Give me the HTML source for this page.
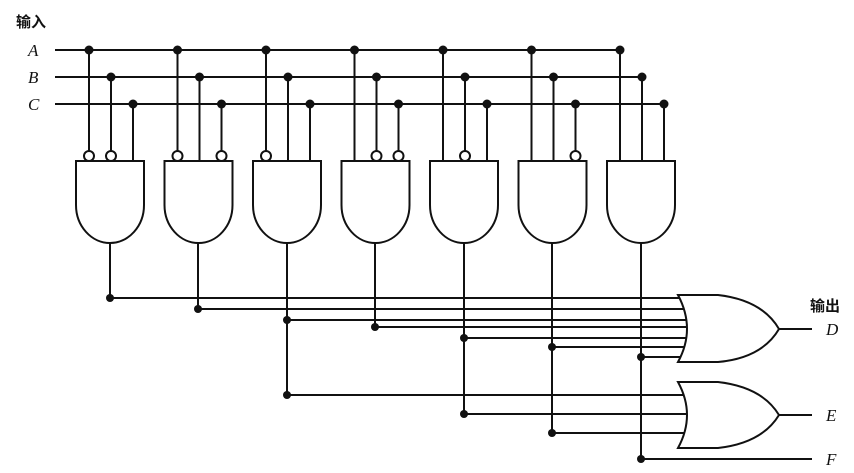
<!DOCTYPE html>
<html><head><meta charset="utf-8"><style>body{margin:0;background:#fff}svg{display:block}</style></head><body>
<svg width="854" height="473" viewBox="0 0 854 473" xmlns="http://www.w3.org/2000/svg">
<g font-family="Liberation Serif, serif" font-style="italic" font-size="17" fill="#111">
<text x="28" y="56">A</text><text x="28" y="83">B</text><text x="28" y="110">C</text>
<text x="826" y="335">D</text><text x="826" y="421">E</text><text x="826" y="465">F</text>
</g>
<g font-family="Liberation Sans, 'Noto Sans CJK SC', sans-serif" font-size="15" font-weight="bold" fill="#111">
<text x="16" y="27">输入</text><text x="810" y="311">输出</text>
</g>
<g stroke="#111" stroke-width="2" fill="none">
<line x1="55" y1="50" x2="620" y2="50"/><line x1="55" y1="77" x2="642" y2="77"/><line x1="55" y1="104" x2="664" y2="104"/>
<!-- output wiring -->
<path d="M110 243V298H700M198 243V309H700M287 243V395H700M287 320H700M375 243V327H700M464 243V414H700M464 338H700M552 243V433H700M552 347H700M641 243V459H812M641 357H700"/>
<line x1="779" y1="329" x2="812" y2="329"/><line x1="779" y1="415" x2="812" y2="415"/>
</g>
<g id="gates" stroke="#111" stroke-width="2" fill="#fff"></g>
<g stroke="#111" stroke-width="2" fill="#fff">
<path d="M678 295 H718 Q762 300 779 329 Q762 358 718 362 H678 Q696 329 678 295Z"/>
<path d="M678 382 H718 Q762 387 779 415 Q762 443 718 448 H678 Q696 415 678 382Z"/>
</g>
<g fill="#111">
<circle cx="110" cy="298" r="4"/><circle cx="198" cy="309" r="4"/><circle cx="287" cy="320" r="4"/><circle cx="287" cy="395" r="4"/>
<circle cx="375" cy="327" r="4"/><circle cx="464" cy="338" r="4"/><circle cx="464" cy="414" r="4"/><circle cx="552" cy="347" r="4"/><circle cx="552" cy="433" r="4"/><circle cx="641" cy="357" r="4"/><circle cx="641" cy="459" r="4"/>
</g>
<g id="top"></g>
<script>
var ns="http://www.w3.org/2000/svg",g=document.getElementById('gates');
var neg=[[1,1,0],[1,0,1],[1,0,0],[0,1,1],[0,1,0],[0,0,1],[0,0,0]],ys=[50,77,104];
function el(t,a){var e=document.createElementNS(ns,t);for(var k in a)e.setAttribute(k,a[k]);g.appendChild(e);return e;}
for(var i=0;i<7;i++){var L=76+88.5*i;
el('path',{d:'M'+L+' 161H'+(L+68)+'V205A34 38 0 0 1 '+L+' 205Z'});
for(var j=0;j<3;j++){var x=L+13+22*j;
el('line',{x1:x,y1:ys[j],x2:x,y2:neg[i][j]?151:161});
if(neg[i][j])el('circle',{cx:x,cy:156,r:5});
el('circle',{cx:x,cy:ys[j],r:4.5,fill:'#111',stroke:'none'});}}
</script>
</svg>
</body></html>
